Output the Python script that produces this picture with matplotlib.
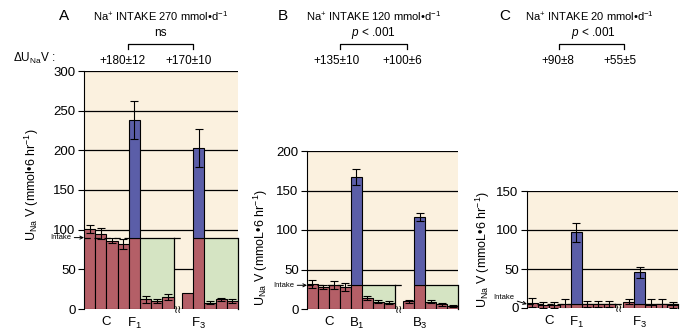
import matplotlib.pyplot as plt
from matplotlib.lines import Line2D

plt.rcParams['font.family'] = ['Liberation Sans', 'DejaVu Sans']
plt.rcParams['mathtext.fontset'] = 'custom'
plt.rcParams['mathtext.rm'] = 'Liberation Sans'
plt.rcParams['mathtext.it'] = 'Liberation Sans:italic'

# ---- data ----
panel_letters = ["A", "B", "C"]
panel_titles = ["Na$^{+}$ INTAKE 270 mmol\u2022d$^{-1}$",
                "Na$^{+}$ INTAKE 120 mmol\u2022d$^{-1}$",
                "Na$^{+}$ INTAKE 20 mmol\u2022d$^{-1}$"]
intake = [90, 30, 5]
ylims = [300, 200, 150]
ylabels = ["U$_{\\mathrm{Na}}$ V (mmol\u20226 hr$^{-1}$)",
           "U$_{\\mathrm{Na}}$ V (mmoL\u20226 hr$^{-1}$)",
           "U$_{\\mathrm{Na}}$ V (mmoL\u20226 hr$^{-1}$)"]
group_labels = [["C", "F$_1$", "F$_3$"], ["C", "B$_1$", "B$_3$"], ["C", "F$_1$", "F$_3$"]]

ctrl = [[101, 95, 86, 82], [32, 28, 30, 28], [7, 4, 4, 5]]
ctrl_err = [[5, 7, 3, 6], [5, 3, 5, 5], [6, 4, 4, 6]]
peak1 = [238, 167, 97]
peak1_err = [24, 10, 12]
post1 = [[12, 10, 15], [14, 9, 8], [5, 5, 5]]
post1_err = [[4, 3, 4], [3, 2, 2], [4, 4, 4]]
pre3 = [20, 10, 8]
pre3_err = [0, 2, 3]
peak3 = [203, 116, 46]
peak3_err = [24, 5, 7]
post3 = [[8, 12, 10], [9, 6, 4], [4, 5, 4]]
post3_err = [[2, 2, 2], [2, 2, 1], [8, 6, 4]]

delta_text = [["+180\u00b112", "+170\u00b110"], ["+135\u00b110", "+100\u00b16"], ["+90\u00b18", "+55\u00b15"]]
signif = ["ns", "$p$ < .001", "$p$ < .001"]

RED = "#b45f67"
BLUE = "#5b5ea8"
GREEN = "#d5e4c3"
BEIGE = "#fbf1df"

W, H = 700, 333
fig = plt.figure(figsize=(7, 3.33), dpi=100)


def px(x, y):
    return x / W, 1 - y / H


# axes boxes in pixels: left, right, top, bottom
boxes = [(84, 238, 71, 309), (307, 458, 151, 309), (527, 678, 191, 308)]
ylabel_pos = [(-0.28, 0.52), (-0.245, 0.39), (-0.23, 0.5)]
intake_offset = [(-9, 0), (-9, 0), (-9, 5)]
gap = 0.75

for i in range(3):
    l, r, t, b = boxes[i]
    ax = fig.add_axes([l / W, 1 - b / H, (r - l) / W, (b - t) / H])
    ax.set_facecolor(BEIGE)
    for s in ["top", "right", "bottom"]:
        ax.spines[s].set_visible(False)
    x_ctrl = [0, 1, 2, 3]
    x_p1 = 4
    x_post1 = [5, 6, 7]
    x_pre3 = 8 + gap
    x_p3 = 9 + gap
    x_post3 = [10 + gap, 11 + gap, 12 + gap]
    xmax = x_post3[-1] + 0.5
    ax.set_xlim(-0.5, xmax)
    ax.set_ylim(0, ylims[i])
    ticks = list(range(0, ylims[i] + 1, 50))
    ax.set_yticks(ticks)
    ax.set_xticks([])
    ax.tick_params(axis="y", labelsize=9.5, length=4, width=0.8, pad=2)
    for tk in ticks:
        ax.axhline(tk, color="black", lw=0.9, zorder=1)

    it = intake[i]
    # green areas behind the post bars
    ax.fill_between([x_post1[0] - 0.5, x_post1[-1] + 0.5], 0, it, color=GREEN, zorder=2, lw=0)
    ax.fill_between([x_post3[0] - 0.5, xmax], 0, it, color=GREEN, zorder=2, lw=0)
    ax.plot([x_post1[0] - 0.5, x_post1[-1] + 0.5], [it, it], color="black", lw=0.9, zorder=2.5)
    ax.plot([x_post1[-1] + 0.5] * 2, [0, it], color="black", lw=0.9, zorder=2.5)
    ax.plot([x_post3[0] - 0.5, xmax], [it, it], color="black", lw=0.9, zorder=2.5)
    ax.plot([xmax - 0.02] * 2, [0, it], color="black", lw=0.9, zorder=2.5, clip_on=False)
    # dashed intake line over controls and across the gap
    ax.plot([-0.5, x_p1 - 0.5], [it, it], color="black", lw=0.9, ls=(0, (5, 3)), zorder=5)
    ax.plot([x_post1[-1] + 0.5, x_pre3 - 0.5], [it, it], color="black", lw=0.9, ls=(0, (5, 3)), zorder=5)

    kw = dict(width=1.0, edgecolor="black", linewidth=0.8, zorder=3)
    ekw = dict(fmt="none", ecolor="black", elinewidth=0.8, capsize=3, capthick=0.8, zorder=4)
    ax.bar(x_ctrl, ctrl[i], color=RED, **kw)
    ax.errorbar(x_ctrl, ctrl[i], yerr=ctrl_err[i], **ekw)
    ax.bar(x_post1, post1[i], color=RED, **kw)
    ax.errorbar(x_post1, post1[i], yerr=post1_err[i], **ekw)
    ax.bar([x_pre3], [pre3[i]], color=RED, **kw)
    if pre3_err[i]:
        ax.errorbar([x_pre3], [pre3[i]], yerr=[pre3_err[i]], **ekw)
    ax.bar(x_post3, post3[i], color=RED, **kw)
    ax.errorbar(x_post3, post3[i], yerr=post3_err[i], **ekw)
    for xp, pk, pe in [(x_p1, peak1[i], peak1_err[i]), (x_p3, peak3[i], peak3_err[i])]:
        ax.bar([xp], [it], color=RED, **kw)
        ax.bar([xp], [pk - it], bottom=[it], color=BLUE, **kw)
        ax.errorbar([xp], [pk], yerr=[pe], **ekw)

    # axis break marks
    ax.annotate("\u2240\u2240", xy=((x_post1[-1] + x_pre3) / 2, 0), xytext=(0, -1),
                textcoords="offset points", ha="center", va="center",
                fontsize=8, zorder=6, annotation_clip=False)

    # group labels
    for lx, lab in zip([1.5, x_p1, x_p3], group_labels[i]):
        ax.annotate(lab, xy=(lx, 0), xytext=(0, -5), textcoords="offset points",
                    ha="center", va="top", fontsize=9.5, annotation_clip=False)

    # intake arrow
    ax.annotate("Intake", xy=(0, it), xycoords=("axes fraction", "data"),
                xytext=intake_offset[i], textcoords="offset points", ha="right", va="center",
                fontsize=5.5, arrowprops=dict(arrowstyle="->", lw=0.7, color="black",
                                              shrinkA=0, shrinkB=0))

    ax.set_ylabel(ylabels[i], fontsize=9)
    ax.yaxis.set_label_coords(*ylabel_pos[i])

# ---- header texts ----
letter_x = [64, 283, 505]
title_x = [93, 306, 525]
sig_x = [160, 373, 593]
br = [(128, 193), (340, 407), (559, 624)]
delta_x = [(123, 189), (337, 402), (558, 620)]
for i in range(3):
    fig.text(*px(letter_x[i], 16), panel_letters[i], fontsize=11, ha="center", va="center")
    fig.text(*px(title_x[i], 16), panel_titles[i], fontsize=8, ha="left", va="center")
    fig.text(*px(sig_x[i], 33), signif[i], fontsize=8.5, ha="center", va="center")
    x0, x1 = br[i]
    xs = [px(x0, 49)[0], px(x0, 44)[0], px(x1, 44)[0], px(x1, 49)[0]]
    ys = [px(x0, 49)[1], px(x0, 44)[1], px(x1, 44)[1], px(x1, 49)[1]]
    fig.add_artist(Line2D(xs, ys, color="black", lw=0.9, transform=fig.transFigure))
    for dx, txt in zip(delta_x[i], delta_text[i]):
        fig.text(*px(dx, 61), txt, fontsize=8.5, ha="center", va="center")

fig.text(*px(13, 58), "\u0394U$_{\\mathrm{Na}}$V :", fontsize=8.5, ha="left", va="center")

fig.savefig("out.png", dpi=100)
